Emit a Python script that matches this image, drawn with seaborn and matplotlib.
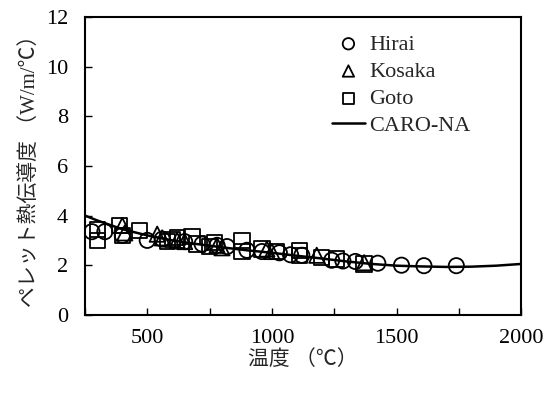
import seaborn as sns
import matplotlib.pyplot as plt
import pandas as pd

# Hirai
hirai_t = [278, 330, 400, 500, 560, 650, 720, 780, 820, 900, 960, 1030, 1075, 1120,
           1240, 1285, 1335, 1425, 1520, 1610, 1740]
hirai_k = [3.35, 3.35, 3.2, 3.0, 3.05, 2.95, 2.85, 2.8, 2.75, 2.6, 2.55, 2.5, 2.42, 2.4,
           2.2, 2.17, 2.15, 2.08, 2.0, 1.98, 1.98]

# Kosaka
kosaka_t = [400, 410, 540, 560, 620, 650, 780, 800, 980, 1000, 1180, 1370]
kosaka_k = [3.6, 3.3, 3.25, 3.1, 3.0, 2.95, 2.8, 2.7, 2.65, 2.55, 2.4, 2.1]

# Goto
goto_t = [300, 300, 390, 400, 470, 580, 600, 620, 680, 700, 750, 770, 880, 880,
          960, 1020, 1110, 1110, 1200, 1260, 1370]
goto_k = [3.45, 3.0, 3.6, 3.2, 3.4, 2.95, 3.05, 3.1, 3.15, 2.85, 2.75, 2.9, 3.0, 2.55,
          2.65, 2.55, 2.6, 2.4, 2.3, 2.25, 2.05]

# CARO-NA
caro_t = [250, 300, 400, 500, 600, 700, 800, 900, 1000, 1100, 1200, 1300, 1400,
          1500, 1600, 1700, 1800, 1900, 2000]
caro_k = [4.0, 3.8, 3.45, 3.2, 3.0, 2.85, 2.72, 2.6, 2.5, 2.38, 2.27, 2.15, 2.05,
          1.98, 1.95, 1.93, 1.94, 1.98, 2.05]

x_ticks = [250, 500, 750, 1000, 1250, 1500, 1750, 2000]
x_labels = ['', '500', '', '1000', '', '1500', '', '2000']
y_ticks = [0, 2, 4, 6, 8, 10, 12]

sns.set_style("ticks")
plt.rcParams['font.family'] = ['Liberation Serif', 'Noto Sans CJK JP', 'DejaVu Sans']
plt.rcParams['xtick.direction'] = 'in'
plt.rcParams['ytick.direction'] = 'in'

fig, ax = plt.subplots(figsize=(5.55, 3.96), dpi=100)
fig.subplots_adjust(left=0.153, right=0.939, top=0.957, bottom=0.205)

mk = dict(s=120, facecolor='none', edgecolor='black', linewidth=1.3, ax=ax, zorder=3)
sns.scatterplot(data=pd.DataFrame({'t': hirai_t, 'k': hirai_k}), x='t', y='k',
                marker='o', label='Hirai', **mk)
sns.scatterplot(data=pd.DataFrame({'t': kosaka_t, 'k': kosaka_k}), x='t', y='k',
                marker='^', label='Kosaka', **mk)
sns.scatterplot(data=pd.DataFrame({'t': goto_t, 'k': goto_k}), x='t', y='k',
                marker='s', label='Goto', **mk)
sns.lineplot(data=pd.DataFrame({'t': caro_t, 'k': caro_k}), x='t', y='k',
             color='black', linewidth=1.8, label='CARO-NA', ax=ax, zorder=4)

ax.set_xlim(250, 2000)
ax.set_ylim(0, 12)
ax.set_xticks(x_ticks)
ax.set_xticklabels(x_labels)
ax.set_yticks(y_ticks)
ax.tick_params(labelsize=16, length=5, width=1, colors='black')
ax.tick_params(axis='x', pad=10)
ax.tick_params(axis='y', pad=12)
for sp in ax.spines.values():
    sp.set_visible(True)
    sp.set_linewidth(1.5)
    sp.set_color('black')

ax.set_xlabel('温度 （℃）', fontsize=15, labelpad=2)
ax.set_ylabel('ペレット熱伝導度 （W/m/℃）', fontsize=15, labelpad=4)

ax.legend(loc='upper left', bbox_to_anchor=(0.52, 1.01), frameon=False, fontsize=16,
          handlelength=1.5, handletextpad=0.2, labelspacing=0.3, markerscale=0.75)

plt.savefig('out.png', dpi=100)
